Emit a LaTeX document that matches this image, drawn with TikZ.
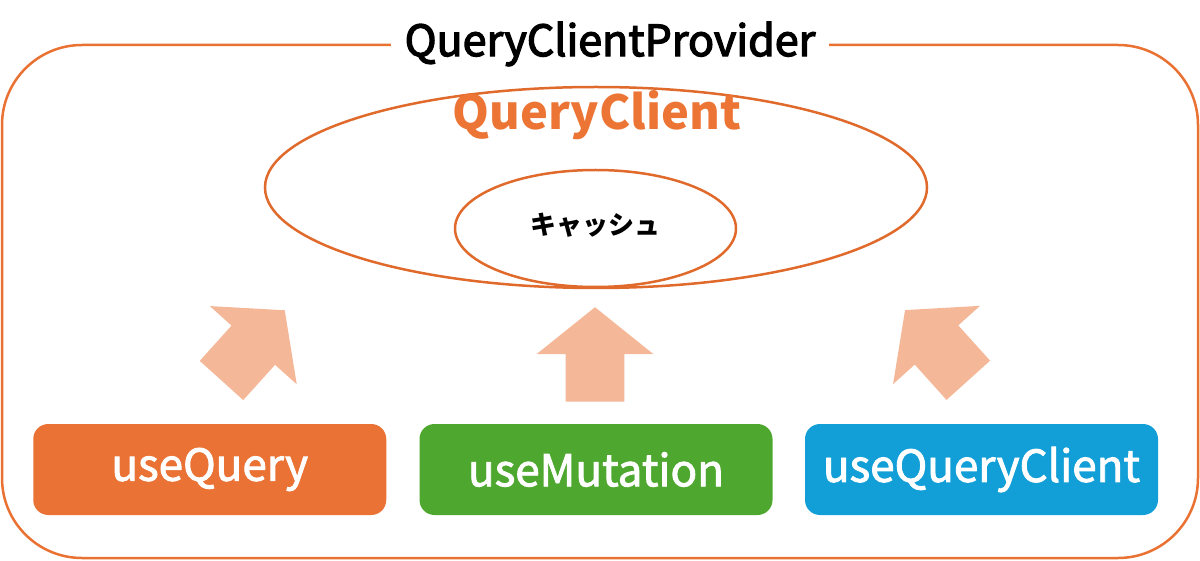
\documentclass[tikz,border=0pt]{standalone}
\usepackage{fontspec}
\setmainfont{Noto Sans CJK JP}
\newfontfamily\titlefont{Noto Sans CJK JP}[FakeBold=3]
\newfontfamily\hookfont{Noto Sans CJK JP}[FakeBold=2]

\usetikzlibrary{shapes.geometric}

\definecolor{providerline}{HTML}{E97132}
\definecolor{clientline}{HTML}{E06A2C}
\definecolor{clienttext}{HTML}{EC7434}
\definecolor{arrowfill}{HTML}{F4B899}
\definecolor{queryfill}{HTML}{EA7234}
\definecolor{mutationfill}{HTML}{4EA72E}
\definecolor{qclientfill}{HTML}{129FD7}

\tikzset{
  hookbox/.style={shape=rectangle, rounded corners=15pt, minimum width=353pt,
    minimum height=91pt, inner sep=0pt, text=white, font=\hookfont\fontsize{44}{54}\selectfont},
  cacheoval/.style={shape=ellipse, draw=clientline, line width=2.5pt, inner sep=0pt},
  flowarrow/.pic={
    \fill[arrowfill] (-29.3,0) -- (-29.3,-47.5) -- (-58.5,-47.5) -- (0,-94.5)
      -- (58.5,-47.5) -- (29.3,-47.5) -- (29.3,0) -- cycle;
  }
}

\begin{document}
\begin{tikzpicture}[x=1pt,y=-1pt]
  \useasboundingbox (0,0) rectangle (1200,561);

  % provider frame and its title
  \draw[providerline, line width=2.5pt, rounded corners=80pt] (2,45) rectangle (1198,558);
  \node[fill=white, inner xsep=14pt, inner ysep=0pt, font=\titlefont\fontsize{43}{50}\selectfont]
    (provider) at (610,44) {QueryClientProvider};

  % query client and cache
  \path (596,187.5) node [cacheoval, minimum width=662pt, minimum height=201pt] (client) {}
        (595.5,228.5) node [cacheoval, minimum width=281pt, minimum height=117pt] (cache) {}
        (597,115) node [text=clienttext, font=\bfseries\fontsize{47}{56}\selectfont] (clientlabel) {QueryClient}
        (595,225) node [font=\bfseries\fontsize{26}{30}\selectfont] (cachelabel) {キャッシュ};

  % hooks
  \path (209.75,469.5) node [hookbox, fill=queryfill] (query) {useQuery}
        (596,469.5) node [hookbox, fill=mutationfill] (mutation) {useMutation}
        (981.5,469.5) node [hookbox, fill=qclientfill] (qclient) {useQueryClient};

  % arrows up to the client
  \pic[rotate=-42] at (221.5,380.5) {flowarrow};
  \pic at (595,401.7) {flowarrow};
  \pic[rotate=42] at (968.3,380.3) {flowarrow};
\end{tikzpicture}
\end{document}
